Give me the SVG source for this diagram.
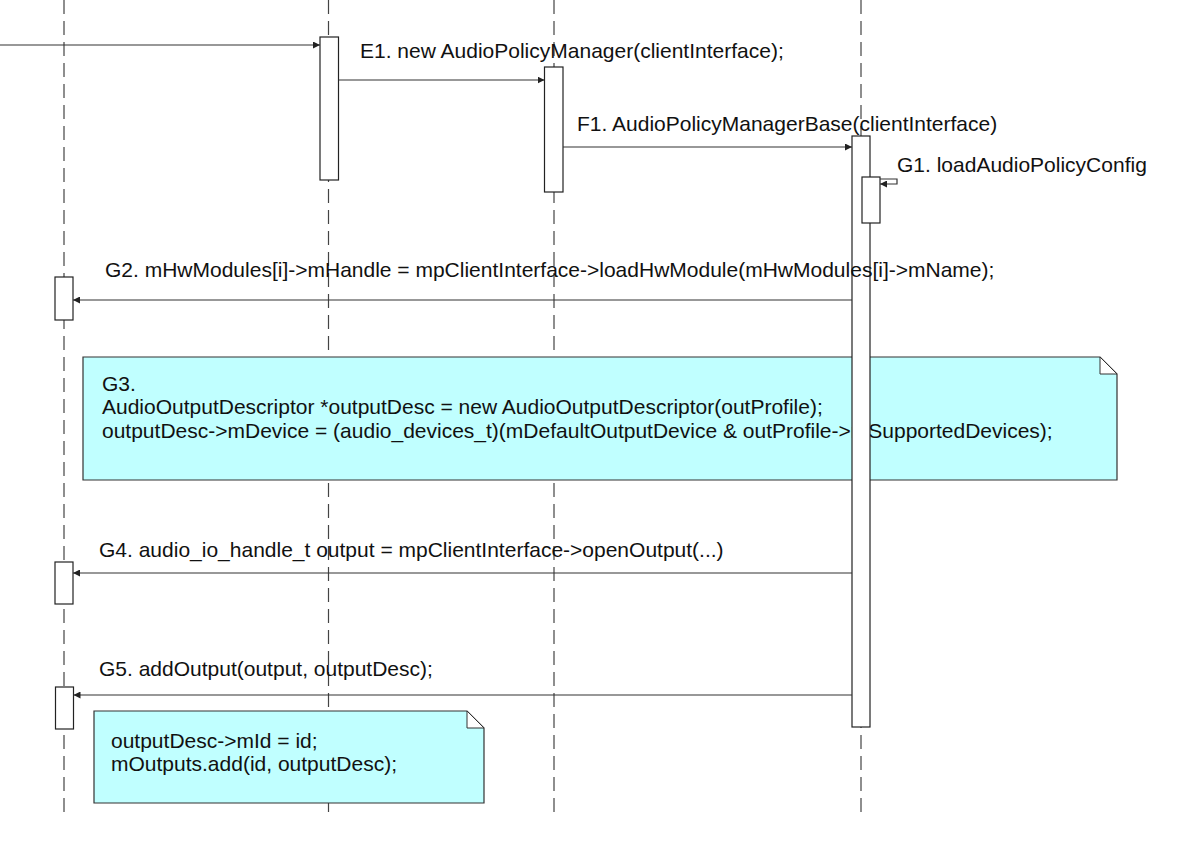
<svg xmlns="http://www.w3.org/2000/svg" width="1179" height="846" viewBox="0 0 1179 846">
<style>
.life{stroke:#444;stroke-width:1.2;stroke-dasharray:14,7;fill:none}
.act{fill:#fff;stroke:#222;stroke-width:1.2}
.msg{stroke:#333;stroke-width:1.2;fill:none;marker-end:url(#ah)}
.note{fill:#C0FFFF;stroke:#333;stroke-width:1.2}
.fold{fill:#fff;stroke:#333;stroke-width:1}
text{font-family:"Liberation Sans",Arial,sans-serif;font-size:21px;fill:#111}
</style>
<defs>
<marker id="ah" markerUnits="userSpaceOnUse" markerWidth="7" markerHeight="7" refX="7" refY="3.5" orient="auto">
<path d="M0,0 L7,3.5 L0,7 z" fill="#222"/>
</marker>
</defs>
<rect width="1179" height="846" fill="#fff"/>
<g id="lifelines">
<line class="life" x1="64" y1="0" x2="64" y2="812"/>
<line class="life" x1="328.5" y1="0" x2="328.5" y2="812"/>
<line class="life" x1="554" y1="0" x2="554" y2="812"/>
<line class="life" x1="861" y1="0" x2="861" y2="812"/>
</g>
<g id="noteG3">
<path class="note" d="M83,357 H1100 L1117,374 V480 H83 Z"/>
<path class="fold" d="M1100,357 V374 H1117 Z"/>
<text x="102" y="391">G3.</text>
<text x="102" y="414">AudioOutputDescriptor *outputDesc = new AudioOutputDescriptor(outProfile);</text>
<text x="102" y="438">outputDesc-&gt;mDevice = (audio_devices_t)(mDefaultOutputDevice &amp; outProfile-&gt;mSupportedDevices);</text>
</g>
<g id="noteG5">
<path class="note" d="M94,711 H467 L484,728 V803 H94 Z"/>
<path class="fold" d="M467,711 V728 H484 Z"/>
<text x="111" y="748">outputDesc-&gt;mId = id;</text>
<text x="111" y="771">mOutputs.add(id, outputDesc);</text>
</g>
<g id="actE1"><rect class="act" x="320" y="37" width="18.5" height="143"/></g>
<g id="actF1"><rect class="act" x="544.5" y="67" width="18.5" height="125"/></g>
<g id="actMain"><rect class="act" x="852" y="136" width="18" height="591"/></g>
<g id="actG1"><rect class="act" x="862" y="177" width="18" height="46"/></g>
<g id="actG2"><rect class="act" x="55" y="277" width="18" height="43"/></g>
<g id="actG4"><rect class="act" x="55" y="562" width="18" height="42"/></g>
<g id="actG5"><rect class="act" x="55.5" y="687" width="18" height="42"/></g>
<g id="connectors">
<line class="msg" x1="0" y1="45" x2="320" y2="45"/>
<line class="msg" x1="338.5" y1="80" x2="544.5" y2="80"/>
<line class="msg" x1="563" y1="147" x2="852" y2="147"/>
<path class="msg" d="M880,179 H897 V184 H880"/>
<line class="msg" x1="852" y1="300" x2="73" y2="300"/>
<line class="msg" x1="852" y1="573" x2="73" y2="573"/>
<line class="msg" x1="852" y1="695" x2="73.5" y2="695"/>
</g>
<g id="labels">
<text x="360" y="58">E1. new AudioPolicyManager(clientInterface);</text>
<text x="577" y="131">F1. AudioPolicyManagerBase(clientInterface)</text>
<text x="897" y="172">G1. loadAudioPolicyConfig</text>
<text x="105" y="277">G2. mHwModules[i]-&gt;mHandle = mpClientInterface-&gt;loadHwModule(mHwModules[i]-&gt;mName);</text>
<text x="99" y="557">G4. audio_io_handle_t output = mpClientInterface-&gt;openOutput(...)</text>
<text x="99" y="676">G5. addOutput(output, outputDesc);</text>
</g>
</svg>
